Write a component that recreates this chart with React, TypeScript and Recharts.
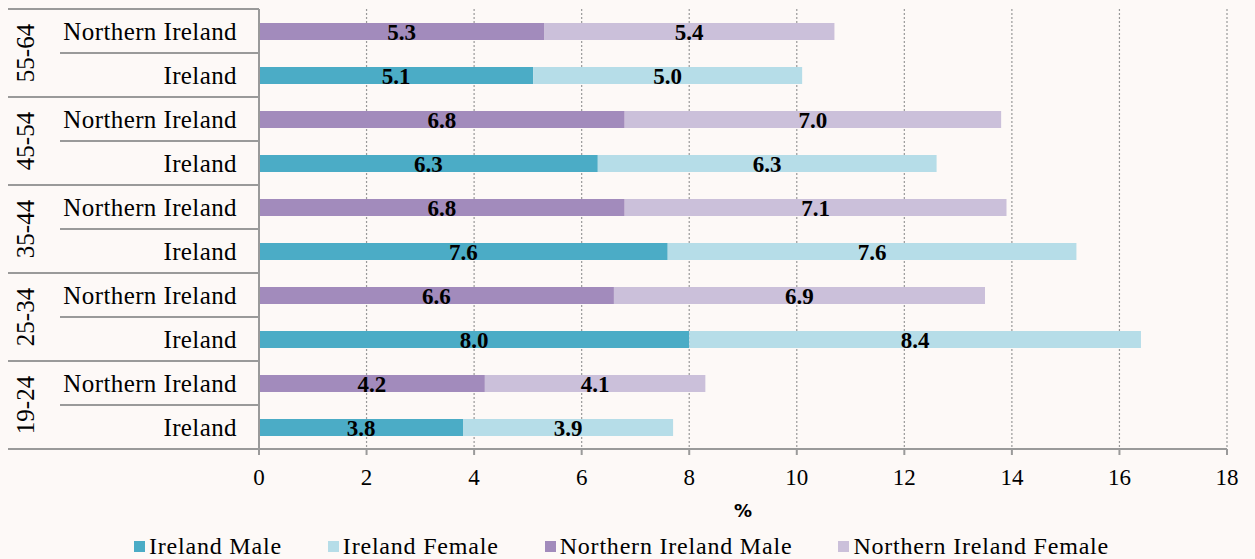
import React from 'react';
import { BarChart, Bar, XAxis, YAxis, CartesianGrid, LabelList } from 'recharts';

// Rows from top to bottom
const ageGroups = ['55-64', '45-54', '35-44', '25-34', '19-24'];
const regions = ['Northern Ireland', 'Ireland'];
const irelandMale = [null, 5.1, null, 6.3, null, 7.6, null, 8.0, null, 3.8];
const irelandFemale = [null, 5.0, null, 6.3, null, 7.6, null, 8.4, null, 3.9];
const niMale = [5.3, null, 6.8, null, 6.8, null, 6.6, null, 4.2, null];
const niFemale = [5.4, null, 7.0, null, 7.1, null, 6.9, null, 4.1, null];
const xTicks = [0, 2, 4, 6, 8, 10, 12, 14, 16, 18];
const seriesNames = ['Ireland Male', 'Ireland Female', 'Northern Ireland Male', 'Northern Ireland Female'];
const seriesKeys = ['im', 'if', 'nm', 'nf'];
const seriesColors = ['#4BACC6', '#B6DDE8', '#A28BBC', '#CBC0DA'];

const data = ageGroups.flatMap((g, gi) =>
  regions.map((r, ri) => {
    const i = gi * 2 + ri;
    return { key: `${g}|${r}`, im: irelandMale[i], if: irelandFemale[i], nm: niMale[i], nf: niFemale[i] };
  })
);

const W = 1255;
const H = 530;
const TOP = 9;
const PLOT_H = 440;
const ROW = PLOT_H / data.length;
const AXIS_X = 259;
const SERIF = '"Liberation Serif", "Times New Roman", serif';
const LINE = '#9A9A9A';

const CategoryTick = (props: any) => {
  const { y, payload, index } = props;
  const [group, region] = String(payload.value).split('|');
  const half = ROW / 2;
  const isTop = index % 2 === 0;
  return (
    <g>
      <text x={237} y={y} textAnchor="end" dominantBaseline="central" fontFamily={SERIF} fontSize={25} letterSpacing={0.4} fill="#000">
        {region}
      </text>
      {isTop && (
        <>
          <line x1={8} x2={AXIS_X} y1={y - half} y2={y - half} stroke={LINE} strokeWidth={2} />
          <line x1={60} x2={AXIS_X} y1={y + half} y2={y + half} stroke={LINE} strokeWidth={2} />
          <text
            x={25}
            y={y + half}
            textAnchor="middle"
            dominantBaseline="central"
            fontFamily={SERIF}
            fontSize={25}
            fill="#000"
            transform={`rotate(-90 25 ${y + half})`}
          >
            {group}
          </text>
        </>
      )}
      {index === data.length - 1 && (
        <line x1={8} x2={AXIS_X} y1={y + half} y2={y + half} stroke={LINE} strokeWidth={2} />
      )}
    </g>
  );
};

const fmt = (v: any) => (v === null || v === undefined ? '' : Number(v).toFixed(1));

export default function App() {
  return (
    <div style={{ position: 'absolute', left: 0, top: 0, width: W, height: 559, background: '#FDF9F7' }}>
      <BarChart
        width={W}
        height={H}
        data={data}
        layout="vertical"
        margin={{ top: TOP, right: 28, left: 0, bottom: 0 }}
        barSize={17}
      >
        <CartesianGrid horizontal={false} stroke="#999" strokeDasharray="2 2" strokeWidth={1.2} />
        <XAxis
          type="number"
          domain={[0, 18]}
          ticks={xTicks}
          interval={0}
          height={H - TOP - PLOT_H}
          axisLine={{ stroke: LINE, strokeWidth: 2 }}
          tickLine={{ stroke: LINE, strokeWidth: 2 }}
          tickSize={6}
          tickMargin={14}
          tick={{ fontFamily: SERIF, fontSize: 23, fill: '#000' }}
          label={{
            value: '%',
            position: 'insideBottom',
            offset: 13,
            style: { fontFamily: '"DejaVu Sans", sans-serif', fontWeight: 'bold', fontSize: 18, fill: '#000' },
          }}
        />
        <YAxis
          type="category"
          dataKey="key"
          width={AXIS_X}
          axisLine={{ stroke: LINE, strokeWidth: 2 }}
          tickLine={false}
          interval={0}
          tick={<CategoryTick />}
        />
        {seriesKeys.map((k, i) => (
          <Bar key={k} dataKey={k} name={seriesNames[i]} stackId="a" fill={seriesColors[i]} isAnimationActive={false}>
            <LabelList
              dataKey={k}
              position="center"
              formatter={fmt}
              dy={0}
              style={{ fontFamily: SERIF, fontWeight: 'bold', fontSize: 23, fill: '#000' }}
            />
          </Bar>
        ))}
      </BarChart>
      <div
        style={{
          position: 'absolute',
          top: 532,
          left: 0,
          width: W,
          display: 'flex',
          justifyContent: 'center',
          paddingRight: 12,
          boxSizing: 'border-box',
          gap: 46,
          fontFamily: SERIF,
          fontSize: 24,
          letterSpacing: 0.8,
          color: '#000',
          lineHeight: '28px',
        }}
      >
        {seriesNames.map((n, i) => (
          <div key={n} style={{ display: 'flex', alignItems: 'center', gap: 4 }}>
            <span style={{ display: 'inline-block', width: 11, height: 11, background: seriesColors[i] }} />
            <span>{n}</span>
          </div>
        ))}
      </div>
    </div>
  );
}
